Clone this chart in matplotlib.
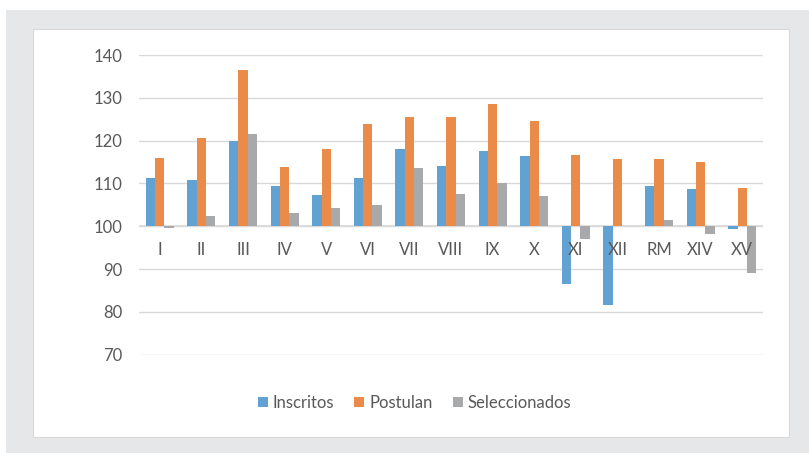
import matplotlib
matplotlib.use("Agg")
import matplotlib.pyplot as plt
import numpy as np
from matplotlib.patches import Rectangle, Patch

categories = ["I", "II", "III", "IV", "V", "VI", "VII", "VIII", "IX", "X",
              "XI", "XII", "RM", "XIV", "XV"]
inscritos = [111.3, 110.9, 119.9, 109.5, 107.2, 111.3, 118.1, 114.1, 117.6, 116.4,
             86.4, 81.6, 109.5, 108.7, 99.4]
postulan = [115.9, 120.5, 136.4, 113.8, 118.1, 124.0, 125.6, 125.6, 128.6, 124.5,
            116.7, 115.6, 115.6, 114.9, 109.0]
seleccionados = [99.5, 102.3, 121.6, 103.1, 104.3, 104.9, 113.5, 107.5, 110.0, 107.0,
                 97.1, 100.0, 101.4, 98.3, 89.1]
series_names = ["Inscritos", "Postulan", "Seleccionados"]
colors = ["#62A2D2", "#EA8B4A", "#A7A9AB"]
base = 100
yticks = [70, 80, 90, 100, 110, 120, 130, 140]

plt.rcParams["font.family"] = ["Lato", "DejaVu Sans"]
W, H = 809, 453
fig = plt.figure(figsize=(W / 100, H / 100), dpi=100)
fig.patch.set_facecolor("white")

# background panels (pixel coords converted to figure fraction)
def frect(x0, y0, x1, y1, **kw):
    r = Rectangle((x0 / W, 1 - y1 / H), (x1 - x0) / W, (y1 - y0) / H,
                  transform=fig.transFigure, **kw)
    fig.patches.append(r)

frect(6, 10, 809, 453, facecolor="#e6e7e8", edgecolor="none", zorder=0)
frect(33, 29, 789, 437, facecolor="white", edgecolor="#d9d9d9", linewidth=0.8, zorder=1)

left, right, top, bottom = 139, 763, 55, 354.7
ax = fig.add_axes([left / W, 1 - bottom / H, (right - left) / W, (bottom - top) / H])
ax.set_facecolor("none")
ax.set_zorder(2)

x = np.arange(len(categories))
bw = 0.224
for k, (vals, c) in enumerate(zip([inscritos, postulan, seleccionados], colors)):
    v = np.array(vals)
    ax.bar(x + (k - 1) * bw, v - base, bottom=base, width=bw, color=c,
           label=series_names[k], zorder=3)

ax.set_xlim(-0.5, len(categories) - 0.5)
ax.set_ylim(70, 140)
ax.set_yticks(yticks)
ax.yaxis.grid(True, color="#d9d9d9", linewidth=1.0, zorder=0)
ax.set_axisbelow(True)
ax.set_xticks([])
for s in ax.spines.values():
    s.set_visible(False)
ax.tick_params(axis="y", length=0, pad=12, labelsize=12, labelcolor="#595959")
ax.axhline(base, color="#d9d9d9", linewidth=1.2, zorder=2)

for i, lab in enumerate(categories):
    ax.annotate(lab, xy=(i, base), xytext=(0, -29), textcoords="offset pixels",
                ha="center", va="baseline", fontsize=12, color="#595959", zorder=5)

handles = [Patch(facecolor=c, edgecolor="none") for c in colors]
fig.legend(handles, series_names, loc="center", ncol=3,
           bbox_to_anchor=(414.5 / W, 1 - 403 / H), frameon=False,
           fontsize=12, labelcolor="#595959", handlelength=0.6, handleheight=0.6,
           handletextpad=0.3, columnspacing=1.2)

fig.savefig("out.png", dpi=100)
